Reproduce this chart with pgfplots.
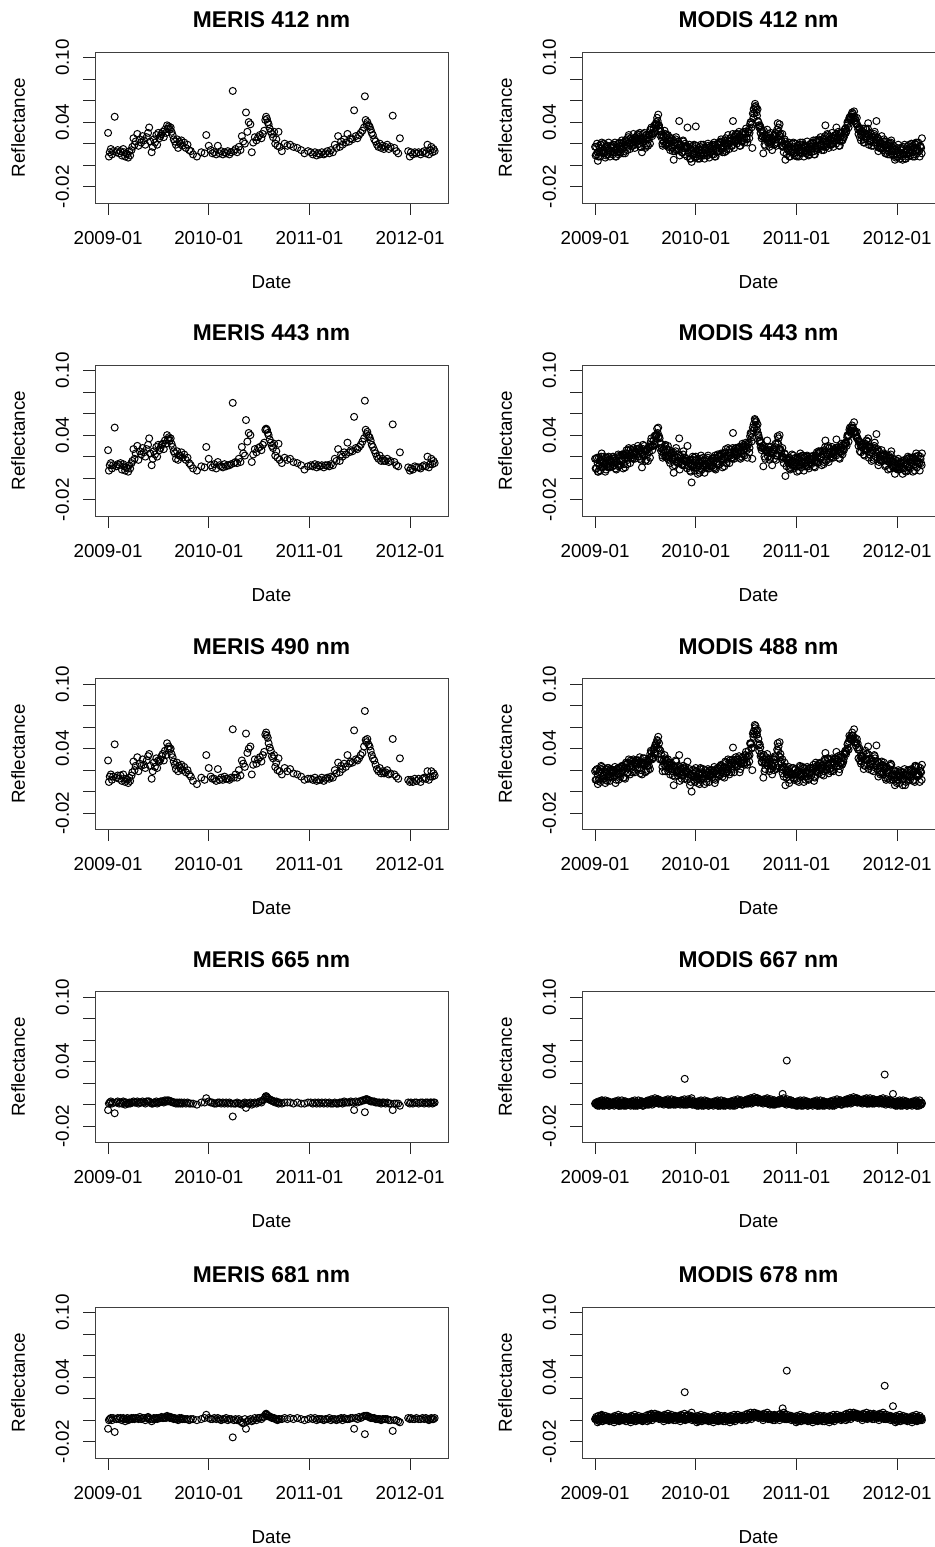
\documentclass[border=0pt]{standalone}
\usepackage{fontspec}
\setmainfont{Liberation Sans}
\usepackage{pgfplots}
\pgfplotsset{compat=1.18}
\usepackage{pgfplotstable}

% Reflectance in units of 0.001; d = days since 2009-01-01
% MERIS: a=412, b=443, c=490, r=665, s=681
\pgfplotstableread{
d a b c r s
0 30 26 29 -5 -8
3 8 7 9 1 0
6 12 12 14 2 1
10 15 14 16 3 2
14 10 9 11 1 0
18 13 12 14 2 2
24 45 47 44 -8 -11
30 12 11 13 2 1
35 14 13 15 3 2
40 11 12 12 1 1
45 13 14 15 2 2
50 9 8 10 1 0
55 15 13 16 3 2
58 12 11 12 2 1
62 8 7 9 0 -1
66 11 10 12 2 1
70 10 9 11 1 2
73 7 6 8 1 0
77 13 12 13 2 1
80 9 9 10 1 1
85 14 14 15 2 2
88 17 16 18 2 1
92 25 27 28 3 2
96 19 18 20 2 1
100 22 23 24 2 2
106 29 30 32 3 2
110 18 17 19 1 1
115 24 25 26 2 3
120 21 22 24 2 1
125 27 28 30 3 2
130 23 24 25 2 2
135 19 20 22 1 0
140 26 27 29 3 2
145 30 31 33 3 3
149 35 37 35 3 2
153 22 23 24 2 1
158 12 12 12 1 -1
162 17 18 19 1 1
166 24 25 27 2 2
170 21 22 23 2 1
175 28 29 31 3 2
178 19 20 22 1 1
182 30 31 29 2 2
186 25 26 28 2 2
190 27 28 30 3 2
194 29 31 33 3 3
198 31 32 35 3 2
202 26 27 29 2 2
206 33 35 38 4 3
210 30 32 34 3 2
214 37 40 45 4 4
217 34 36 40 3 3
220 36 38 42 4 3
224 33 35 39 3 2
227 35 37 40 3 3
230 31 32 35 3 2
234 28 29 32 2 2
238 24 25 28 2 1
242 22 23 25 2 2
246 19 18 21 1 1
250 24 25 27 2 1
254 16 17 19 1 0
258 22 21 24 2 2
262 20 21 22 1 1
266 23 24 25 2 2
270 18 19 20 1 1
276 21 22 23 2 1
282 16 17 18 1 1
288 19 19 20 2 1
294 14 14 16 1 0
300 13 12 14 1 1
308 10 9 10 1 1
322 8 7 7 0 0
338 12 11 13 2 1
350 11 10 11 2 2
356 28 29 34 6 5
365 18 18 22 3 2
372 14 12 14 2 1
378 11 10 12 2 1
385 12 13 12 1 2
392 10 9 10 1 1
398 18 15 21 2 2
404 11 12 11 2 1
410 13 11 13 1 0
416 10 10 11 2 1
422 12 13 14 1 1
428 11 11 12 2 2
434 13 12 12 1 0
440 10 12 11 2 1
446 12 13 13 1 1
452 69 70 58 -11 -16
456 13 14 13 1 0
462 15 15 16 1 1
468 12 14 13 2 0
474 17 18 20 1 1
480 14 15 15 1 -1
485 27 29 29 0 -2
490 22 23 26 1 -3
496 20 21 23 2 1
500 49 54 54 -3 -8
505 31 34 36 1 -1
510 40 42 40 1 0
516 38 40 42 2 1
521 12 15 16 0 -1
526 21 22 25 1 0
532 26 27 30 2 2
538 23 24 26 1 0
544 26 28 30 2 2
550 28 29 32 3 2
556 25 26 28 2 1
561 29 31 34 4 3
566 32 33 37 5 3
570 42 45 53 7 5
573 45 46 55 8 6
576 43 45 52 7 5
579 40 42 50 6 4
582 38 40 45 5 4
586 34 36 41 5 3
590 31 33 38 4 3
594 29 30 33 4 2
598 26 28 31 3 2
602 31 32 34 3 2
606 20 21 23 2 1
610 24 25 27 3 1
614 18 19 20 2 0
618 31 32 31 1 1
622 17 17 19 2 1
630 13 14 16 1 1
640 20 19 22 2 2
650 18 17 19 2 1
660 19 18 21 2 2
672 17 15 17 1 1
686 16 14 16 2 2
700 14 12 14 1 1
712 11 8 11 1 0
725 13 11 12 2 1
735 12 12 12 2 2
742 10 11 11 1 1
750 12 13 13 2 2
756 9 10 10 1 0
762 11 12 11 2 1
768 10 11 11 1 1
775 12 12 13 2 1
782 10 10 10 1 0
788 11 12 12 2 1
795 13 12 13 1 1
802 11 11 12 2 2
808 14 13 14 1 0
815 12 12 13 1 1
822 19 18 20 2 1
828 16 16 17 1 0
834 27 27 27 1 1
840 17 16 18 2 1
845 22 22 24 2 2
850 19 20 21 1 0
856 24 24 26 3 2
862 21 22 23 2 1
868 29 33 34 2 1
874 22 24 26 2 1
880 25 26 28 3 2
886 24 25 27 2 2
892 51 57 57 -5 -8
898 27 28 30 3 2
904 25 27 29 2 1
910 28 29 31 3 3
916 30 31 34 3 2
922 32 34 36 4 3
928 35 37 42 4 4
931 64 72 75 -7 -13
934 42 45 48 5 4
937 38 41 46 5 4
940 40 43 49 5 4
944 37 39 44 4 3
948 36 38 42 4 3
952 33 35 38 3 2
956 30 31 34 3 2
960 28 29 31 3 2
965 24 26 29 3 2
970 22 23 25 2 1
975 19 20 21 2 1
980 17 18 19 2 1
985 20 21 22 2 1
990 16 16 17 1 0
995 18 18 19 2 1
1000 15 16 17 2 1
1006 17 16 18 1 1
1012 19 18 20 2 1
1018 15 15 16 1 0
1024 17 16 17 1 0
1032 46 50 49 -5 -10
1038 16 15 16 1 0
1045 13 12 14 1 0
1052 11 11 12 1 -1
1058 25 24 31 -1 -2
1088 13 10 11 2 2
1094 8 7 9 1 1
1098 12 9 11 2 2
1105 10 8 9 1 1
1112 12 11 12 2 1
1118 11 10 10 2 2
1126 12 10 12 1 1
1133 10 9 9 2 1
1140 12 11 12 2 2
1146 13 12 13 1 1
1152 11 11 12 2 2
1158 19 20 19 2 1
1163 10 10 11 1 0
1168 14 13 14 2 1
1172 17 18 19 2 2
1176 12 13 14 1 1
1180 15 16 17 2 1
1184 13 14 15 2 2
}\meris

% MODIS: a=412, b=443, c=488, r=667, s=678 (every fifth day)
\pgfplotstableread{
d a b c r s
0 17 18 19 1 1
5 10 9 11 0 1
10 4 6 7 2 1
15 12 12 12 -1 -1
20 19 17 21 3 4
25 13 14 17 4 4
30 11 11 12 2 2
35 16 18 19 0 1
40 9 8 11 1 1
45 18 19 22 3 3
50 14 17 14 -1 0
55 12 11 14 1 2
60 16 15 19 0 1
65 19 20 19 2 2
70 12 12 14 1 0
75 14 16 15 1 1
80 17 15 21 3 3
85 10 11 11 -1 0
90 15 16 17 1 1
95 17 16 18 0 1
100 20 22 23 2 1
105 13 13 13 -1 0
110 23 21 25 3 3
115 18 19 22 1 2
120 26 26 27 2 2
125 21 23 24 0 1
130 20 19 22 1 0
135 24 25 28 3 3
140 19 22 19 -1 0
145 25 24 27 1 1
150 23 22 26 0 1
155 29 30 29 2 2
160 20 20 22 1 1
165 24 26 25 1 0
170 12 10 16 3 3
175 26 27 27 -1 0
180 24 25 26 2 2
185 18 17 19 1 2
190 25 27 28 3 2
195 24 24 24 0 0
200 33 31 35 4 5
205 29 30 33 2 2
210 29 30 32 4 4
215 37 39 41 2 3
220 38 39 43 3 3
225 44 46 48 5 5
230 37 38 40 1 2
235 28 28 30 3 3
240 26 25 30 1 2
245 18 19 19 3 3
250 27 27 30 2 1
255 29 31 31 2 2
260 21 19 26 4 4
265 17 18 19 0 1
270 20 21 22 2 2
275 23 22 24 1 2
280 16 18 19 3 2
285 5 5 6 0 0
290 21 19 23 4 4
295 14 15 18 2 3
300 14 14 15 3 3
305 41 37 34 1 2
310 19 18 21 2 2
315 12 13 16 4 4
320 22 25 22 0 1
325 17 16 19 24 26
330 17 16 20 1 1
335 35 30 28 3 4
340 11 11 13 2 2
345 15 17 16 2 2
350 3 -4 0 6 7
355 16 17 17 0 1
360 11 12 13 1 1
365 36 20 22 0 1
370 8 10 11 2 1
375 12 12 12 -1 -1
380 9 7 11 3 3
385 14 15 18 1 2
390 16 16 17 2 2
395 9 11 12 0 1
400 14 13 16 1 0
405 11 12 15 3 3
410 18 21 18 -1 0
415 12 11 14 1 1
420 12 11 15 0 1
425 17 18 17 2 2
430 10 10 12 1 0
435 19 21 20 1 1
440 15 13 19 3 3
445 13 14 14 -1 0
450 19 20 21 1 1
455 22 21 23 0 1
460 15 17 18 2 1
465 17 17 17 -1 -1
470 20 18 22 3 4
475 13 14 17 1 1
480 20 20 21 2 2
485 22 24 25 0 1
490 25 24 27 1 1
495 18 19 22 3 3
500 41 42 41 -1 0
505 23 22 25 1 1
510 29 28 32 1 2
515 24 25 24 3 3
520 23 23 25 2 1
525 27 29 28 2 2
530 22 20 26 4 4
535 28 29 29 0 1
540 25 26 27 3 3
545 31 30 34 2 3
550 24 26 27 4 3
555 31 31 33 1 1
560 30 28 34 5 5
565 40 41 45 3 4
570 16 18 20 5 5
575 52 50 56 3 4
580 57 54 59 4 4
585 49 48 53 6 6
590 41 42 45 2 3
595 35 34 38 4 4
600 30 29 33 2 3
605 27 28 27 4 4
610 11 11 13 3 2
615 25 27 26 3 3
620 28 26 32 5 5
625 23 24 24 1 2
630 25 26 27 2 2
635 20 19 21 1 2
640 21 23 24 3 2
645 23 23 23 0 0
650 28 26 30 4 5
655 20 21 24 2 2
660 33 33 39 3 3
665 35 37 42 1 2
670 27 26 32 2 2
675 22 23 26 4 4
680 17 20 17 10 11
685 20 19 22 2 2
690 5 2 6 1 1
695 16 17 16 41 46
700 14 14 16 2 2
705 17 19 18 2 2
710 12 10 16 4 4
715 15 16 16 0 1
720 11 12 13 1 1
725 16 15 17 0 1
730 9 11 12 2 1
735 18 18 18 -1 -1
740 14 12 16 3 3
745 12 13 16 1 2
750 16 16 17 2 2
755 19 21 22 0 1
760 12 11 14 1 0
765 14 15 18 3 3
770 17 20 17 -1 0
775 10 9 12 1 1
780 15 14 18 0 1
785 17 18 17 2 2
790 20 20 22 1 0
795 13 15 14 1 1
800 23 21 27 3 3
805 18 19 19 -1 0
810 24 25 26 1 1
815 19 18 20 0 1
820 18 20 21 2 1
825 22 22 22 -1 -1
830 17 15 19 3 4
835 37 35 36 1 1
840 22 22 23 2 2
845 28 30 31 0 1
850 19 18 21 1 0
855 23 24 27 3 3
860 20 23 20 -1 0
865 25 24 27 1 1
870 28 27 31 1 2
875 35 36 37 3 3
880 26 26 28 2 1
885 23 25 24 2 2
890 30 28 34 4 4
895 24 25 25 0 1
900 26 27 28 3 3
905 33 32 36 2 3
910 31 33 35 4 3
915 40 40 44 1 1
920 42 40 47 5 5
925 43 44 49 3 4
930 47 47 52 5 5
935 48 47 52 3 4
940 41 43 46 4 4
945 39 40 43 6 6
950 38 38 41 2 3
955 29 30 31 4 4
960 26 25 29 2 3
965 28 29 28 4 4
970 31 31 33 3 2
975 24 26 25 3 3
980 34 32 38 5 5
985 29 30 30 1 2
990 39 37 42 3 3
995 23 22 24 2 3
1000 22 24 25 4 3
1005 26 26 26 1 1
1010 21 19 23 5 6
1015 27 28 31 3 3
1020 41 41 43 4 4
1025 25 27 28 2 3
1030 16 15 18 3 3
1035 20 21 24 5 5
1040 17 20 17 1 2
1045 22 21 24 3 3
1050 18 17 21 28 32
1055 11 12 11 3 3
1060 16 16 18 2 2
1065 13 15 14 2 2
1070 20 18 24 4 4
1075 14 15 15 1 1
1080 9 10 11 10 13
1085 14 13 15 0 1
1090 7 9 10 2 1
1095 16 16 16 -1 -1
1100 12 10 14 3 3
1105 10 11 14 1 2
1110 14 14 15 2 2
1115 5 4 6 0 1
1120 10 9 12 1 0
1125 12 13 16 3 3
1130 15 18 15 -1 0
1135 8 7 10 1 1
1140 12 11 15 0 1
1145 14 15 14 2 2
1150 17 17 19 1 0
1155 10 12 11 1 1
1160 20 18 24 3 3
1165 15 16 16 -1 0
1170 15 16 17 1 1
1175 13 14 15 2 2
1180 17 18 19 0 1
1185 25 23 25 1 0
}\modis

% MODIS, further overpasses between the ones above
\pgfplotstableread{
d a b c r s
2 9 9 11 1 1
4 17 18 20 2 3
7 20 19 21 0 0
9 12 14 16 -1 -2
12 8 6 10 3 4
14 18 19 18 1 1
17 16 16 19 2 3
19 8 7 9 0 0
22 19 20 24 1 1
24 21 23 23 4 5
27 11 10 14 -1 -1
29 14 14 15 2 3
32 20 20 22 2 2
34 12 13 15 -1 0
37 7 6 8 4 4
39 17 19 21 1 0
42 15 13 17 0 1
44 10 11 10 2 2
47 10 10 13 1 2
49 21 20 22 3 3
52 14 15 19 -1 -1
54 8 10 10 0 1
57 18 17 21 2 2
59 16 16 17 1 2
62 18 18 20 1 1
64 10 11 13 2 3
67 19 18 20 0 0
69 14 16 18 -1 -2
72 21 19 23 3 4
74 8 9 8 1 1
77 8 8 11 2 3
79 16 15 17 0 0
82 12 13 17 1 1
84 20 22 22 4 5
87 13 12 16 -1 -1
89 21 21 22 2 3
92 12 12 14 2 2
94 20 21 23 -1 0
97 23 22 24 4 4
99 15 17 19 1 0
102 11 9 13 0 1
104 21 22 21 2 2
107 19 19 22 1 2
109 11 10 12 3 3
112 22 23 27 -1 -1
114 24 26 26 0 1
117 14 13 17 2 2
119 17 17 18 1 2
122 28 28 30 1 1
124 20 21 23 2 3
127 15 14 16 0 0
129 25 27 29 -1 -2
132 23 21 25 3 4
134 18 19 18 1 1
137 18 18 21 2 3
139 29 28 30 0 0
142 22 23 27 1 1
144 16 18 18 4 5
147 26 25 29 -1 -1
149 24 24 25 2 3
152 27 27 29 2 2
154 19 20 22 -1 0
157 28 27 29 4 4
159 23 25 27 1 0
162 30 28 32 0 1
164 17 18 17 2 2
167 17 17 20 1 2
169 25 24 26 3 3
172 21 22 26 -1 -1
174 29 31 31 0 1
177 22 21 25 2 2
179 30 30 31 1 2
182 16 16 18 2 2
184 24 25 27 3 4
187 28 27 29 1 1
189 20 22 24 0 -1
192 18 16 20 4 5
194 28 29 28 2 2
197 28 28 31 3 4
199 20 19 21 1 1
202 33 34 38 2 2
204 35 37 37 5 6
207 27 26 30 0 0
209 30 30 31 3 4
212 34 35 39 4 4
214 30 32 36 1 2
217 31 31 35 6 6
219 37 40 44 3 2
222 40 39 45 2 3
224 38 40 41 4 4
227 41 42 47 3 4
229 47 47 51 5 5
232 37 39 45 1 1
234 34 37 39 2 3
237 32 32 38 4 4
239 31 32 35 3 4
242 28 28 30 2 2
244 20 21 23 3 4
247 27 26 28 1 1
249 22 24 26 0 -1
252 32 30 34 4 5
254 19 20 19 2 2
257 20 20 23 3 4
259 28 27 29 1 1
262 20 21 25 2 2
264 28 30 30 5 6
267 18 17 21 0 0
269 26 26 27 3 4
272 14 14 16 3 3
274 22 23 25 0 1
277 25 24 26 5 5
279 17 19 21 2 1
282 13 11 15 1 2
284 23 24 23 3 3
287 21 21 24 2 3
289 13 12 14 4 4
292 24 25 29 0 0
294 26 28 28 1 2
297 16 15 19 3 3
299 19 19 20 2 3
302 22 22 24 2 2
304 14 15 17 3 4
307 9 8 10 1 1
309 19 21 23 0 -1
312 17 15 19 4 5
314 12 13 12 2 2
317 12 12 15 3 4
319 23 22 24 1 1
322 16 17 21 2 2
324 10 12 12 5 6
327 20 19 23 0 0
329 18 18 19 3 4
332 16 16 18 3 3
334 8 9 11 0 1
337 17 16 18 5 5
339 12 14 16 2 1
342 19 17 21 1 2
344 6 7 6 3 3
347 6 6 9 2 3
349 14 13 15 4 4
352 10 11 15 0 0
354 18 20 20 1 2
357 11 10 14 3 3
359 19 19 20 2 3
362 7 7 9 1 1
364 15 16 18 2 3
367 18 17 19 0 0
369 10 12 14 -1 -2
372 6 4 8 3 4
374 16 17 16 1 1
377 14 14 17 2 3
379 6 5 7 0 0
382 17 18 22 1 1
384 19 21 21 4 5
387 9 8 12 -1 -1
389 12 12 13 2 3
392 19 19 21 2 2
394 11 12 14 -1 0
397 6 5 7 4 4
399 16 18 20 1 0
402 14 12 16 0 1
404 9 10 9 2 2
407 9 9 12 1 2
409 20 19 21 3 3
412 13 14 18 -1 -1
414 7 9 9 0 1
417 17 16 20 2 2
419 15 15 16 1 2
422 18 18 20 1 1
424 10 11 13 2 3
427 19 18 20 0 0
429 14 16 18 -1 -2
432 21 19 23 3 4
434 8 9 8 1 1
437 8 8 11 2 3
439 16 15 17 0 0
442 12 13 17 1 1
444 20 22 22 4 5
447 13 12 16 -1 -1
449 21 21 22 2 3
452 13 13 15 2 2
454 21 22 24 -1 0
457 24 23 25 4 4
459 16 18 20 1 0
462 12 10 14 0 1
464 22 23 22 2 2
467 20 20 23 1 2
469 12 11 13 3 3
472 23 24 28 -1 -1
474 25 27 27 0 1
477 15 14 18 2 2
479 18 18 19 1 2
482 28 28 30 1 1
484 20 21 23 2 3
487 15 14 16 0 0
489 25 27 29 -1 -2
492 23 21 25 3 4
494 18 19 18 1 1
497 18 18 21 2 3
499 29 28 30 0 0
502 22 23 27 1 1
504 16 18 18 4 5
507 26 25 29 -1 -1
509 24 24 25 2 3
512 28 28 30 3 3
514 20 21 23 0 1
517 29 28 30 5 5
519 24 26 28 2 1
522 31 29 33 1 2
524 18 19 18 3 3
527 18 18 21 2 3
529 26 25 27 4 4
532 22 23 27 0 0
534 30 32 32 1 2
537 23 22 26 3 3
539 31 31 32 2 3
542 21 21 25 3 3
544 29 30 34 4 5
547 34 33 37 2 2
549 26 28 32 1 0
552 21 19 25 5 6
554 31 32 33 3 3
557 33 33 38 4 5
559 25 24 28 2 2
562 38 39 45 3 3
564 40 42 44 6 7
567 35 34 40 1 1
569 38 38 41 4 5
572 48 47 54 5 5
574 44 44 51 2 3
577 48 46 53 7 7
579 54 55 62 4 3
582 55 52 61 3 4
584 53 53 57 5 5
587 46 45 53 4 5
589 52 50 57 6 6
592 40 40 49 2 2
594 37 38 43 3 4
597 37 35 44 5 5
599 36 35 41 4 5
602 33 33 35 3 3
604 25 26 28 4 5
607 31 30 32 2 2
609 26 28 30 1 0
612 32 30 34 5 6
614 19 20 19 3 3
617 18 18 21 4 5
619 26 25 27 2 2
622 25 26 30 3 3
624 33 35 35 6 7
627 21 20 24 1 1
629 29 29 30 4 5
632 17 17 19 3 3
634 25 26 28 0 1
637 30 29 31 5 5
639 22 24 26 2 1
642 14 12 16 1 2
644 24 25 24 3 3
647 27 27 30 2 3
649 19 18 20 4 4
652 28 29 33 0 0
654 30 32 32 1 2
657 18 17 21 3 3
659 21 21 22 2 3
662 39 39 45 3 3
664 31 32 38 4 5
667 28 27 33 2 2
669 38 40 46 1 0
672 29 27 35 5 6
674 24 25 28 3 3
677 18 18 21 4 5
679 29 28 30 2 2
682 18 19 23 3 3
684 12 14 14 6 7
687 24 23 27 1 1
689 22 22 23 4 5
692 18 18 20 3 3
694 10 11 13 0 1
697 19 18 20 5 5
699 14 16 18 2 1
702 21 19 23 1 2
704 8 9 8 3 3
707 8 8 11 2 3
709 16 15 17 4 4
712 12 13 17 0 0
714 20 22 22 1 2
717 13 12 16 3 3
719 21 21 22 2 3
722 9 9 11 1 1
724 17 18 20 2 3
727 20 19 21 0 0
729 12 14 16 -1 -2
732 8 6 10 3 4
734 18 19 18 1 1
737 16 16 19 2 3
739 8 7 9 0 0
742 19 20 24 1 1
744 21 23 23 4 5
747 11 10 14 -1 -1
749 14 14 15 2 3
752 21 21 23 2 2
754 13 14 16 -1 0
757 8 7 9 4 4
759 18 20 22 1 0
762 16 14 18 0 1
764 11 12 11 2 2
767 11 11 14 1 2
769 22 21 23 3 3
772 15 16 20 -1 -1
774 9 11 11 0 1
777 19 18 22 2 2
779 17 17 18 1 2
782 20 20 22 1 1
784 12 13 15 2 3
787 21 20 22 0 0
789 16 18 20 -1 -2
792 23 21 25 3 4
794 10 11 10 1 1
797 10 10 13 2 3
799 18 17 19 0 0
802 14 15 19 1 1
804 22 24 24 4 5
807 15 14 18 -1 -1
809 23 23 24 2 3
812 15 15 17 2 2
814 23 24 26 -1 0
817 26 25 27 4 4
819 18 20 22 1 0
822 14 12 16 0 1
824 24 25 24 2 2
827 22 22 25 1 2
829 14 13 15 3 3
832 25 26 30 -1 -1
834 27 29 29 0 1
837 17 16 20 2 2
839 20 20 21 1 2
842 29 29 31 1 1
844 21 22 24 2 3
847 16 15 17 0 0
849 26 28 30 -1 -2
852 24 22 26 3 4
854 19 20 19 1 1
857 19 19 22 2 3
859 30 29 31 0 0
862 23 24 28 1 1
864 17 19 19 4 5
867 27 26 30 -1 -1
869 25 25 26 2 3
872 28 28 30 3 3
874 20 21 23 0 1
877 29 28 30 5 5
879 24 26 28 2 1
882 31 29 33 1 2
884 18 19 18 3 3
887 18 18 21 2 3
889 26 25 27 4 4
892 22 23 27 0 0
894 30 32 32 1 2
897 23 22 26 3 3
899 31 31 32 2 3
902 26 26 31 3 3
904 29 30 35 4 5
907 34 33 38 2 2
909 30 32 37 1 0
912 32 30 37 5 6
914 37 38 40 3 3
917 39 39 45 4 5
919 35 34 39 2 2
922 44 45 52 3 3
924 45 47 50 6 7
927 43 42 49 1 1
929 44 44 48 4 5
932 49 49 55 5 5
934 45 46 52 2 3
937 44 43 49 7 7
939 50 52 58 4 3
942 44 42 50 3 4
944 42 43 46 5 5
947 38 38 45 4 5
949 44 43 49 6 6
952 36 37 45 2 2
954 33 35 39 3 4
957 35 34 41 5 5
959 34 34 39 4 5
962 31 31 33 3 3
964 23 24 26 4 5
967 32 31 33 2 2
969 27 29 31 1 0
972 34 32 36 5 6
974 21 22 21 3 3
977 21 21 24 4 5
979 29 28 30 2 2
982 25 26 30 3 3
984 33 35 35 6 7
987 26 25 29 1 1
989 34 34 35 4 5
992 19 19 21 4 4
994 27 28 30 1 2
997 30 29 31 6 6
999 22 24 26 3 2
1002 18 16 20 2 3
1004 28 29 28 4 4
1007 26 26 29 3 4
1009 18 17 19 5 5
1012 29 30 34 1 1
1014 31 33 33 2 3
1017 21 20 24 4 4
1019 24 24 25 3 4
1022 26 26 28 3 3
1024 18 19 21 4 5
1027 13 12 14 2 2
1029 23 25 27 1 0
1032 21 19 23 5 6
1034 16 17 16 3 3
1037 16 16 19 4 5
1039 27 26 28 2 2
1042 20 21 25 3 3
1044 14 16 16 6 7
1047 24 23 27 1 1
1049 22 22 23 4 5
1052 11 11 13 3 3
1054 19 20 22 0 1
1057 22 21 23 5 5
1059 14 16 18 2 1
1062 10 8 12 1 2
1064 20 21 20 3 3
1067 18 18 21 2 3
1069 10 9 11 4 4
1072 21 22 26 0 0
1074 23 25 25 1 2
1077 13 12 16 3 3
1079 16 16 17 2 3
1082 18 18 20 1 1
1084 10 11 13 2 3
1087 5 4 6 0 0
1089 15 17 19 -1 -2
1092 13 11 15 3 4
1094 8 9 8 1 1
1097 8 8 11 2 3
1099 19 18 20 0 0
1102 12 13 17 1 1
1104 6 8 8 4 5
1107 16 15 19 -1 -1
1109 14 14 15 2 3
1112 16 16 18 2 2
1114 8 9 11 -1 0
1117 17 16 18 4 4
1119 12 14 16 1 0
1122 19 17 21 0 1
1124 6 7 6 2 2
1127 6 6 9 1 2
1129 14 13 15 3 3
1132 10 11 15 -1 -1
1134 18 20 20 0 1
1137 11 10 14 2 2
1139 19 19 20 1 2
1142 9 9 11 1 1
1144 17 18 20 2 3
1147 20 19 21 0 0
1149 12 14 16 -1 -2
1152 8 6 10 3 4
1154 18 19 18 1 1
1157 16 16 19 2 3
1159 8 7 9 0 0
1162 19 20 24 1 1
1164 21 23 23 4 5
1167 11 10 14 -1 -1
1169 14 14 15 2 3
1172 21 21 23 2 2
1174 13 14 16 -1 0
1177 8 7 9 4 4
1179 18 20 22 1 0
1182 16 14 18 0 1
1184 11 12 11 2 2
}\modisb

\pgfplotsset{
  panel/.style={
    scale only axis, width=176.5pt, height=75.5pt, anchor=north west,
    xmin=-47.4, xmax=1232.4, ymin=-35.2, ymax=105.2,
    xtick={0,365,730,1095},
    xticklabels={2009-01,2010-01,2011-01,2012-01},
    ytick={-20,0,20,40,60,80,100},
    yticklabels={-0.02,,,0.04,,,0.10},
    xtick pos=left, ytick pos=left,
    tick align=outside, major tick length=5.8pt,
    tick style={black!85, line width=0.5pt},
    axis line style={black!75, line width=0.5pt},
    xticklabel style={anchor=center, yshift=-11.7pt, font=\fontsize{9.4}{11}\selectfont},
    yticklabel style={xshift=-10.45pt, rotate=90, anchor=center, font=\fontsize{9.4}{11}\selectfont},
    xlabel={Date}, ylabel={Reflectance},
    every axis x label/.style={at={(axis description cs:0.5,-0.523)}, anchor=center, font=\fontsize{9.4}{11}\selectfont},
    every axis y label/.style={at={(axis description cs:-0.218,0.5)}, rotate=90, anchor=center, font=\fontsize{9.4}{11}\selectfont},
    every axis title/.style={at={(axis description cs:0.5,1.212)}, anchor=center, font=\bfseries\fontsize{11.4}{13}\selectfont},
  },
  pts/.style={only marks, mark=o, mark size=1.75pt, mark options={line width=0.5pt, draw=black}},
}

\begin{document}
\begin{tikzpicture}
\useasboundingbox (0,0) rectangle (467.5pt,-773.5pt);

% row 1
\begin{axis}[panel, at={(47.5pt,-26pt)}, title={MERIS 412 nm}]
  \addplot[pts] table[x=d, y=a] {\meris};
\end{axis}
\begin{axis}[panel, at={(291pt,-26pt)}, title={MODIS 412 nm}]
  \addplot[pts] table[x=d, y=a] {\modis};
  \addplot[pts] table[x=d, y=a] {\modisb};
\end{axis}

% row 2
\begin{axis}[panel, at={(47.5pt,-182.5pt)}, title={MERIS 443 nm}]
  \addplot[pts] table[x=d, y=b] {\meris};
\end{axis}
\begin{axis}[panel, at={(291pt,-182.5pt)}, title={MODIS 443 nm}]
  \addplot[pts] table[x=d, y=b] {\modis};
  \addplot[pts] table[x=d, y=b] {\modisb};
\end{axis}

% row 3
\begin{axis}[panel, at={(47.5pt,-339.25pt)}, title={MERIS 490 nm}]
  \addplot[pts] table[x=d, y=c] {\meris};
\end{axis}
\begin{axis}[panel, at={(291pt,-339.25pt)}, title={MODIS 488 nm}]
  \addplot[pts] table[x=d, y=c] {\modis};
  \addplot[pts] table[x=d, y=c] {\modisb};
\end{axis}

% row 4
\begin{axis}[panel, at={(47.5pt,-495.75pt)}, title={MERIS 665 nm}]
  \addplot[pts] table[x=d, y=r] {\meris};
\end{axis}
\begin{axis}[panel, at={(291pt,-495.75pt)}, title={MODIS 667 nm}]
  \addplot[pts] table[x=d, y=r] {\modis};
  \addplot[pts] table[x=d, y=r] {\modisb};
\end{axis}

% row 5
\begin{axis}[panel, at={(47.5pt,-653.5pt)}, title={MERIS 681 nm}]
  \addplot[pts] table[x=d, y=s] {\meris};
\end{axis}
\begin{axis}[panel, at={(291pt,-653.5pt)}, title={MODIS 678 nm}]
  \addplot[pts] table[x=d, y=s] {\modis};
  \addplot[pts] table[x=d, y=s] {\modisb};
\end{axis}
\end{tikzpicture}
\end{document}
